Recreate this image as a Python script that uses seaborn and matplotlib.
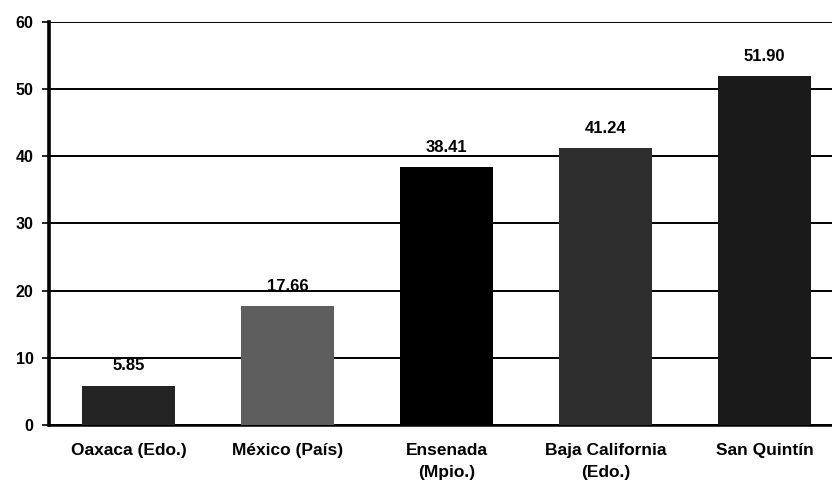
import matplotlib
matplotlib.use("Agg")
import matplotlib.pyplot as plt
import seaborn as sns
import pandas as pd

# values
places = ["Oaxaca (Edo.)", "México (País)", "Ensenada\n(Mpio.)", "Baja California\n(Edo.)", "San Quintín"]
values = [5.85, 17.66, 38.41, 41.24, 51.90]
bar_colors = ["#242424", "#5e5e5e", "#000000", "#2e2e2e", "#1a1a1a"]
y_ticks = [0, 10, 20, 30, 40, 50, 60]

sns.set_style("white")
plt.rcParams["font.family"] = ["Liberation Sans", "DejaVu Sans"]
plt.rcParams["text.color"] = "black"
plt.rcParams["xtick.color"] = "black"
plt.rcParams["ytick.color"] = "black"

df = pd.DataFrame({"Lugar": places, "Valor": values})

fig = plt.figure(figsize=(8.32, 4.91), dpi=100)
ax = fig.add_axes([49 / 832, 1 - 425 / 491, 795 / 832, 403 / 491])

sns.barplot(x="Lugar", y="Valor", hue="Lugar", data=df, palette=bar_colors,
            legend=False, width=0.58, saturation=1, linewidth=0, ax=ax, zorder=3)

ax.set_ylim(0, 60)
ax.set_xlim(-0.5, len(places) - 0.5)
ax.set_yticks(y_ticks)
ax.yaxis.grid(True, color="black", linewidth=1.4)
ax.set_axisbelow(True)

for side in ["top", "right"]:
    ax.spines[side].set_visible(False)
ax.spines["left"].set_linewidth(2.6)
ax.spines["left"].set_color("black")
ax.spines["bottom"].set_linewidth(1.8)
ax.spines["bottom"].set_color("black")

# category labels at bar centres, tick marks at category boundaries
ax.set_xticks(range(len(places)))
ax.set_xticklabels(places, fontsize=12.5, fontweight="bold", linespacing=1.6)
ax.tick_params(axis="x", which="major", length=0, pad=13)
ax.set_xticks([i + 0.5 for i in range(-1, len(places))], minor=True)
ax.tick_params(axis="x", which="minor", length=5, width=1.2, color="black", direction="out")
ax.tick_params(axis="y", length=5, width=1.2, color="black", pad=6, labelsize=11.5, left=True)
for lab in ax.get_yticklabels():
    lab.set_fontweight("bold")

ax.set_xlabel("")
ax.set_ylabel("")

for container in ax.containers:
    ax.bar_label(container, fmt="%.2f", padding=9, fontsize=12, fontweight="bold", color="black")

fig.savefig("out.png", dpi=100)
